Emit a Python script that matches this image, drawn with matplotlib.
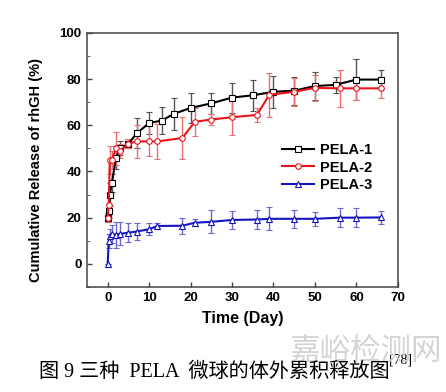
import matplotlib.pyplot as plt
from matplotlib.ticker import MultipleLocator

# PELA-1
t1 = [0, 0.25, 0.5, 1, 2, 3, 5, 7, 10, 13, 16, 20, 25, 30, 35, 40, 45, 50, 55, 60, 66]
y1 = [20, 23, 30, 35, 46, 50, 52, 56.5, 61, 62, 65, 67.5, 69.5, 72, 73, 74.5, 75, 77, 77.5, 79.8, 79.8]
e1 = [2, 3, 5, 4, 5, 3, 2, 6.5, 4.7, 5.8, 7, 6.4, 4.5, 6.5, 6.7, 7, 6, 6, 3.5, 8.8, 4]

# PELA-2
t2 = [0, 0.25, 0.5, 1, 2, 3, 5, 7, 10, 12, 18, 21, 25, 30, 36, 39, 45, 50, 56, 60, 66]
y2 = [20, 25.5, 45, 45, 50, 49, 52, 53, 53, 53, 54.5, 61.5, 62.5, 63.5, 64.5, 73.2, 74.5, 76.2, 76, 76, 76]
e2 = [2, 5, 6, 4, 7, 3, 2, 7, 6.5, 7.5, 9, 6, 2.5, 7.5, 3, 9.5, 6, 5.5, 8, 5, 4]

# PELA-3
t3 = [0, 0.25, 0.5, 1, 2, 3, 5, 7, 10, 12, 18, 21, 25, 30, 36, 39, 45, 50, 56, 60, 66]
y3 = [0, 10, 12, 13, 12.5, 13, 13.5, 14, 15, 16.4, 16.5, 17.8, 18.2, 19, 19.2, 19.5, 19.5, 19.5, 20, 20, 20.1]
e3 = [0, 3, 3, 4, 5.8, 5, 4, 3.5, 2.5, 1.5, 3.5, 1.5, 5, 4, 4, 5, 4, 3, 4, 4, 3]

series = [
    (t1, y1, e1, 'black', '#555555', 's', 'PELA-1'),
    (t2, y2, e2, '#e8141c', '#e87070', 'o', 'PELA-2'),
    (t3, y3, e3, '#1414c0', '#6a6ad0', '^', 'PELA-3'),
]

fig = plt.figure(figsize=(4.46, 3.92), dpi=100)
ax = fig.add_axes([0.195, 0.268, 0.697, 0.648])

for t, y, e, c, ec, m, lab in series:
    ax.errorbar(t, y, yerr=e, color=c, ecolor=ec, elinewidth=1, capsize=2.5, capthick=1,
                marker=m, markersize=4, markerfacecolor='white', markeredgecolor=c,
                markeredgewidth=0.8, linewidth=1.5, label=lab)

ax.set_xlim(-5, 70)
ax.set_ylim(-10, 100)
ax.xaxis.set_major_locator(MultipleLocator(10))
ax.yaxis.set_major_locator(MultipleLocator(20))
ax.yaxis.set_minor_locator(MultipleLocator(10))
ax.tick_params(direction='in', length=3.5, width=1, labelsize=9.5, pad=4, color='#444444')
ax.tick_params(which='minor', direction='in', length=2, color='#444444')
for lbl in ax.get_xticklabels() + ax.get_yticklabels():
    lbl.set_fontweight('bold')
    lbl.set_family('Liberation Sans')
for sp in ax.spines.values():
    sp.set_color('#444444')
    sp.set_linewidth(1.1)

ax.set_xlabel('Time (Day)', fontsize=11.5, fontweight='bold', family='Liberation Sans', labelpad=5)
ax.set_ylabel('Cumulative Release of rhGH (%)', fontsize=10.5, fontweight='bold',
              family='Liberation Sans')
ax.yaxis.set_label_coords(-0.14, 0.46)

handles, labels = ax.get_legend_handles_labels()
handles = [h[0] for h in handles]
leg = ax.legend(handles, labels, loc='center right', bbox_to_anchor=(0.96, 0.47), frameon=False,
                prop={'family': 'Liberation Sans', 'weight': 'bold', 'size': 10.5},
                handlelength=2.2, handletextpad=0.4, labelspacing=0.25)

fig.text(0.82, 0.105, '嘉峪检测网', fontsize=22, color='#d4d4d4', ha='center', va='center',
         family=['Noto Sans CJK SC'])
cap = fig.text(0.48, 0.05, '图 9 三种  PELA  微球的体外累积释放图', fontsize=14.5, ha='center',
               va='center', family=['Liberation Serif', 'Noto Sans CJK SC'])
ax.annotate('[78]', xy=(1, 0.8), xycoords=cap, fontsize=10, ha='left', va='bottom',
            family='Liberation Serif', annotation_clip=False)

fig.savefig('out.png', dpi=100)
